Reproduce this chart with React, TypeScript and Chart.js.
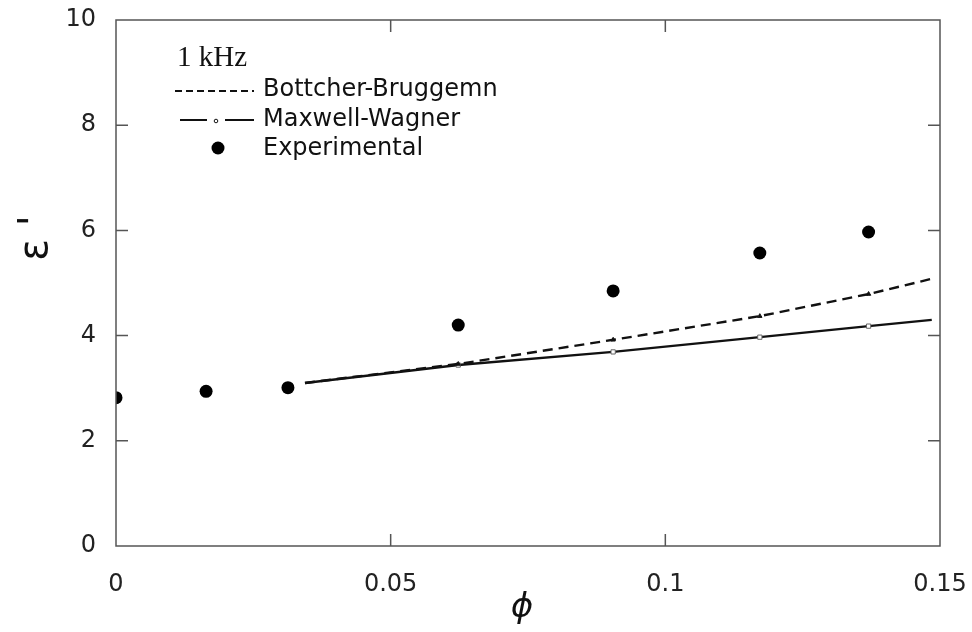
import React, { useEffect, useRef } from "react";
import { Chart, registerables } from "chart.js";

Chart.register(...registerables);

const phiExp = [0, 0.0164, 0.0313, 0.0623, 0.0905, 0.1172, 0.137];
const epsExp = [2.82, 2.94, 3.01, 4.2, 4.85, 5.57, 5.97];

const phiModel = [0.0344, 0.0623, 0.0905, 0.1172, 0.137, 0.1485];
const epsBB = [3.1, 3.46, 3.92, 4.37, 4.79, 5.08];
const epsMW = [3.1, 3.44, 3.69, 3.97, 4.18, 4.3];

const xTicks = [0, 0.05, 0.1, 0.15];
const xTickLabels = ["0", "0.05", "0.1", "0.15"];
const yTicks = [0, 2, 4, 6, 8, 10];

const legendTitle = "1 kHz";
const legendLabels = ["Bottcher-Bruggemn", "Maxwell-Wagner", "Experimental"];
const xTitle = "ϕ";
const yTitle = "ε '";

const SANS = "'DejaVu Sans', sans-serif";

const framePlugin = {
  id: "frame",
  afterDraw(chart: any) {
    const { ctx, chartArea: ca, scales } = chart;
    const xs = scales.x;
    const ys = scales.y;
    ctx.save();
    ctx.strokeStyle = "#555";
    ctx.lineWidth = 1.5;
    ctx.strokeRect(ca.left, ca.top, ca.right - ca.left, ca.bottom - ca.top);
    // inward ticks
    const tl = 12;
    ctx.beginPath();
    yTicks.slice(1, -1).forEach((v) => {
      const y = ys.getPixelForValue(v);
      ctx.moveTo(ca.left, y);
      ctx.lineTo(ca.left + tl, y);
      ctx.moveTo(ca.right, y);
      ctx.lineTo(ca.right - tl, y);
    });
    xTicks.slice(1, -1).forEach((v) => {
      const x = xs.getPixelForValue(v);
      ctx.moveTo(x, ca.bottom);
      ctx.lineTo(x, ca.bottom - tl);
      ctx.moveTo(x, ca.top);
      ctx.lineTo(x, ca.top + tl);
    });
    ctx.stroke();

    // legend
    ctx.fillStyle = "#111";
    ctx.textBaseline = "alphabetic";
    ctx.textAlign = "left";
    ctx.font = "29px 'Liberation Serif', serif";
    ctx.fillText(legendTitle, 177, 66);

    ctx.font = "24px " + SANS;
    ctx.textBaseline = "middle";
    ctx.fillText(legendLabels[0], 263, 90);
    ctx.fillText(legendLabels[1], 263, 120);
    ctx.fillText(legendLabels[2], 263, 149);

    ctx.strokeStyle = "#111";
    ctx.lineWidth = 2;
    ctx.setLineDash([7, 4]);
    ctx.beginPath();
    ctx.moveTo(175, 91);
    ctx.lineTo(254, 91);
    ctx.stroke();
    ctx.setLineDash([]);
    ctx.beginPath();
    ctx.moveTo(180, 120);
    ctx.lineTo(207, 120);
    ctx.moveTo(225, 120);
    ctx.lineTo(254, 120);
    ctx.stroke();
    ctx.lineWidth = 1;
    ctx.beginPath();
    ctx.arc(216, 121, 1.8, 0, Math.PI * 2);
    ctx.stroke();
    ctx.fillStyle = "#000";
    ctx.beginPath();
    ctx.arc(218, 148, 6.5, 0, Math.PI * 2);
    ctx.fill();

    // axis titles
    ctx.fillStyle = "#111";
    ctx.textAlign = "center";
    ctx.textBaseline = "middle";
    ctx.font = "italic 34px 'DejaVu Sans', sans-serif";
    ctx.fillText(xTitle, 522, 608);
    ctx.save();
    ctx.translate(37, 238);
    ctx.rotate(-Math.PI / 2);
    ctx.font = "40px " + SANS;
    ctx.fillText(yTitle, 0, 0);
    ctx.restore();
    ctx.restore();
  },
};

export default function App() {
  const ref = useRef<HTMLCanvasElement>(null);
  useEffect(() => {
    if (!ref.current) return;
    const chart = new Chart(ref.current, {
      type: "scatter",
      data: {
        datasets: [
          {
            label: legendLabels[0],
            data: phiModel.map((x, i) => ({ x, y: epsBB[i] })),
            showLine: true,
            borderColor: "#111",
            borderWidth: 2.4,
            borderDash: [10, 6],
            pointStyle: "triangle",
            pointRadius: [0, 2.5, 2.5, 2.5, 2.5, 0],
            pointBackgroundColor: "#111",
            pointBorderColor: "#111",
            pointBorderWidth: 1,
          },
          {
            label: legendLabels[1],
            data: phiModel.map((x, i) => ({ x, y: epsMW[i] })),
            showLine: true,
            borderColor: "#111",
            borderWidth: 2.4,
            pointStyle: "rect",
            pointRadius: [0, 3, 3, 3, 3, 0],
            pointBackgroundColor: "#fff",
            pointBorderColor: "#666",
            pointBorderWidth: 1,
          },
          {
            label: legendLabels[2],
            data: phiExp.map((x, i) => ({ x, y: epsExp[i] })),
            showLine: false,
            pointRadius: 6.5,
            pointBackgroundColor: "#000",
            pointBorderColor: "#000",
            pointBorderWidth: 0,
          },
        ],
      },
      options: {
        animation: false,
        responsive: false,
        maintainAspectRatio: false,
        layout: { padding: { top: 20, right: 32, left: 0, bottom: 0 } },
        plugins: { legend: { display: false }, tooltip: { enabled: false } },
        scales: {
          x: {
            type: "linear",
            min: 0,
            max: 0.15,
            afterBuildTicks: (s: any) => {
              s.ticks = xTicks.map((v) => ({ value: v }));
            },
            afterFit: (s: any) => {
              s.height = 86;
              s.paddingLeft = 0;
              s.paddingRight = 0;
            },
            grid: { display: false },
            border: { display: false },
            ticks: {
              font: { family: SANS, size: 24 },
              color: "#222",
              padding: 16,
              maxRotation: 0,
              callback: (v: any) => {
                const i = xTicks.findIndex((t) => Math.abs(t - v) < 1e-9);
                return i >= 0 ? xTickLabels[i] : "";
              },
            },
          },
          y: {
            type: "linear",
            min: 0,
            max: 10,
            afterBuildTicks: (s: any) => {
              s.ticks = yTicks.map((v) => ({ value: v }));
            },
            afterFit: (s: any) => {
              s.width = 116;
              s.paddingTop = 0;
              s.paddingBottom = 0;
            },
            grid: { display: false },
            border: { display: false },
            ticks: {
              font: { family: SANS, size: 24 },
              color: "#222",
              padding: 12,
            },
          },
        },
      },
      plugins: [framePlugin],
    });
    return () => chart.destroy();
  }, []);
  return (
    <div style={{ position: "fixed", left: 0, top: 0, width: 972, height: 632, background: "#fff" }}>
      <canvas ref={ref} width={972} height={632} style={{ width: 972, height: 632 }} />
    </div>
  );
}
